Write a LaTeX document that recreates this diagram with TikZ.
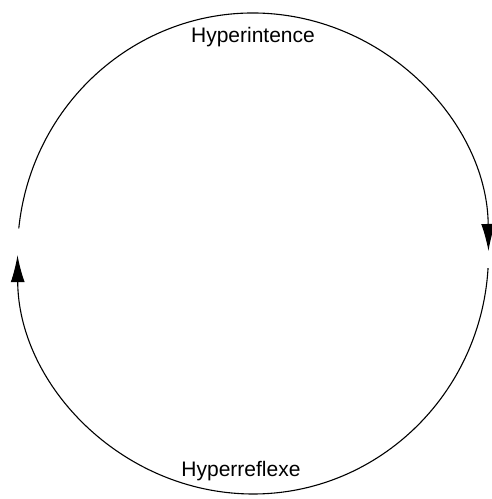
\documentclass[tikz,border=0pt]{standalone}
\usepackage{fontspec}
\setmainfont{Liberation Sans}
\usetikzlibrary{arrows.meta}

\begin{document}
\begin{tikzpicture}[x=1pt,y=1pt,
    cycle arc/.style={line width=1.1pt,-{Latex[length=27pt,width=14pt]}},
    phase label/.style={font=\fontsize{21}{25}\selectfont,inner sep=0pt}]
    \useasboundingbox (0,0) rectangle (492,499);
    \coordinate (O) at (253,245.5);

    \node[phase label] (hyperint) at (253,462) {Hyperintence};
    \node[phase label] (hyperref) at (241,28) {Hyperreflexe};

    \draw[cycle arc] (O) ++(174:235.5 and 240.5)
        arc[start angle=174,end angle=0.6,x radius=235.5,y radius=240.5];
    \draw[cycle arc] (O) ++(-3.5:235.5 and 240.5)
        arc[start angle=-3.5,end angle=-179.6,x radius=235.5,y radius=240.5];
\end{tikzpicture}
\end{document}
